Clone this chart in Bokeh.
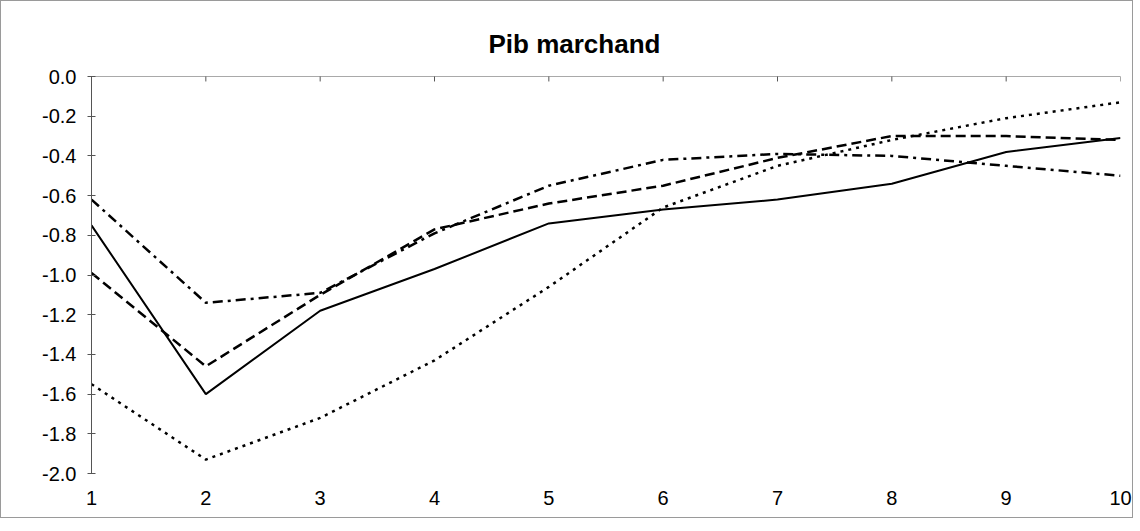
from bokeh.plotting import figure
from bokeh.models import FixedTicker, PrintfTickFormatter, LinearAxis, Range1d, Span
from bokeh.embed import file_html
from bokeh.resources import INLINE

periods = [1, 2, 3, 4, 5, 6, 7, 8, 9, 10]
solid_vals = [-0.75, -1.60, -1.18, -0.97, -0.74, -0.67, -0.62, -0.54, -0.38, -0.31]
dashed_vals = [-0.99, -1.46, -1.10, -0.77, -0.64, -0.55, -0.41, -0.30, -0.30, -0.32]
dashdot_vals = [-0.62, -1.14, -1.09, -0.79, -0.55, -0.42, -0.39, -0.40, -0.45, -0.50]
dotted_vals = [-1.55, -1.93, -1.72, -1.43, -1.06, -0.66, -0.45, -0.32, -0.21, -0.13]
y_ticks = [0.0, -0.2, -0.4, -0.6, -0.8, -1.0, -1.2, -1.4, -1.6, -1.8, -2.0]
title_text = "Pib marchand"

FONT = "Liberation Sans"
W, H = 1133, 518

p = figure(width=W, height=H, output_backend="svg", toolbar_location=None,
           x_range=Range1d(1, 10), y_range=Range1d(-2.0, 0.0),
           min_border_left=90, min_border_right=14, min_border_top=75, min_border_bottom=46,
           x_axis_location=None, y_axis_location=None)
p.title.text = title_text
p.title.align = "left"
p.title.offset = 397
p.title.text_font = FONT
p.title.text_font_size = "26px"
p.title.text_font_style = "bold"
p.title.text_color = "black"
p.title.standoff = 36
p.outline_line_color = None
p.xgrid.visible = False
p.ygrid.visible = False
p.background_fill_color = "white"
p.border_fill_color = "white"
p.styles = {"border": "1px solid #9a9a9a"}

# zero line (x axis crossing) with crossing tick marks
p.add_layout(Span(location=0, dimension="width", line_color="#555555", line_width=1))
tick_half = 0.025
p.segment(x0=periods, x1=periods, y0=[-tick_half] * len(periods), y1=[tick_half] * len(periods),
          line_color="#555555", line_width=1)

# bottom labels only
bot = LinearAxis(ticker=FixedTicker(ticks=periods))
bot.axis_line_color = None
bot.major_tick_line_color = None
bot.minor_tick_line_color = None
bot.major_tick_out = 0
bot.major_tick_in = 0
bot.major_label_standoff = 17
bot.major_label_text_font = FONT
bot.major_label_text_font_size = "20px"
bot.major_label_text_color = "black"
p.add_layout(bot, "below")

left = LinearAxis(ticker=FixedTicker(ticks=y_ticks),
                  formatter=PrintfTickFormatter(format="%.1f"))
left.major_tick_in = 4
left.major_tick_out = 4
left.minor_tick_line_color = None
left.axis_line_color = "#555555"
left.major_tick_line_color = "#555555"
left.major_label_standoff = 11
left.major_label_text_font = FONT
left.major_label_text_font_size = "20px"
left.major_label_text_color = "black"
p.add_layout(left, "left")

p.line(periods, solid_vals, line_color="black", line_width=2)
p.line(periods, dashed_vals, line_color="black", line_width=2.5, line_dash="10 5")
p.line(periods, dashdot_vals, line_color="black", line_width=2.5, line_dash="10 5 3 5")
p.line(periods, dotted_vals, line_color="black", line_width=2.5, line_dash="3 5")

open("out.html", "w").write(file_html(p, INLINE))
